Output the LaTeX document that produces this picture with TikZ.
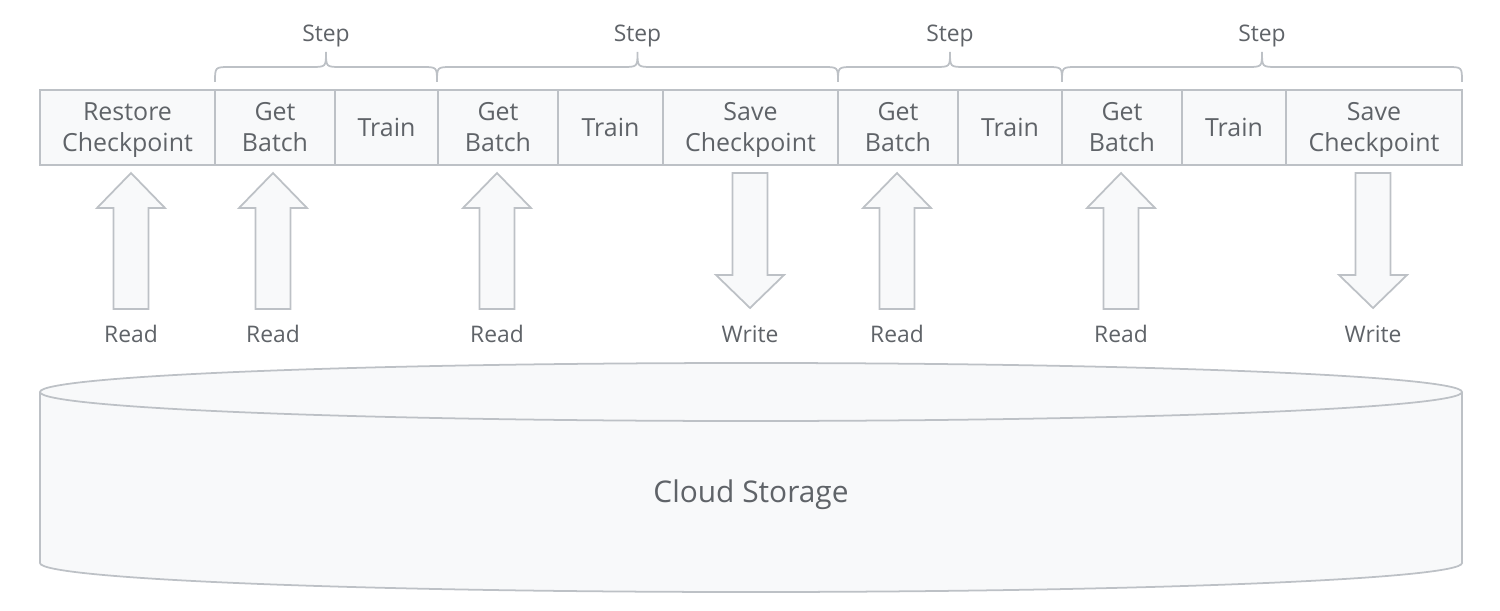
\documentclass[tikz,border=0pt]{standalone}
\usepackage{fontspec}
\setmainfont{Open Sans}
\definecolor{edge}{HTML}{BDC1C6}
\definecolor{boxfill}{HTML}{F8F9FA}
\definecolor{ink}{HTML}{5F6368}
\newcommand\tstr{\rule{0pt}{15pt}}
\newcommand\bstr{\rule[-5.1pt]{0pt}{0pt}}
\tikzset{
  box/.style={draw=edge, fill=boxfill, line width=1pt, inner sep=0pt, outer sep=0pt,
    minimum height=1.5cm, anchor=north west, align=center, text=ink,
    font=\fontsize{14.2}{17.6}\selectfont},
  lbl/.style={text=ink, font=\fontsize{13}{15}\selectfont, inner sep=0pt},
  blockarrow/.style={draw=edge, fill=boxfill, line width=1pt, line join=miter},
  bracestyle/.style={draw=edge, line width=1pt},
  pics/uparr/.style={code={
    \path[blockarrow] (0,0) -- (34,35) -- (17.5,35) -- (17.5,136) -- (-17.5,136) -- (-17.5,35) -- (-34,35) -- cycle;}},
  pics/downarr/.style={code={
    \path[blockarrow] (-17.5,0) -- (17.5,0) -- (17.5,102) -- (34,102) -- (0,135) -- (-34,102) -- (-17.5,102) -- cycle;}},
}
\begin{document}
\begin{tikzpicture}[x=0.02cm,y=-0.02cm]
\useasboundingbox (0,0) rectangle (1500,611);
% boxes
\foreach \xa/\w/\t/\n in {40/175/{\tstr Restore\\\bstr Checkpoint}/1, 215/120/{\tstr Get\\\bstr Batch}/2, 335/103/{Train}/3,
  438/120/{\tstr Get\\\bstr Batch}/4, 558/105/{Train}/5, 663/175/{\tstr Save\\\bstr Checkpoint}/6, 838/120/{\tstr Get\\\bstr Batch}/7,
  958/104/{Train}/8, 1062/120/{\tstr Get\\\bstr Batch}/9, 1182/104/{Train}/10, 1286/176/{\tstr Save\\\bstr Checkpoint}/11}
  \node[box, minimum width=\w*0.02cm] (b\n) at (\xa,90) {\t};
% braces and step labels
\foreach \xa/\xb/\n in {215/437/1, 437/838/2, 838/1062/3, 1062/1462/4}{
  \pgfmathsetmacro{\m}{(\xa+\xb)/2}
  \draw[bracestyle] (\xa,82) .. controls (\xa,67) .. (\xa+15,67) -- (\m-15,67)
    .. controls (\m,67) .. (\m,52) .. controls (\m,67) .. (\m+15,67) -- (\xb-15,67)
    .. controls (\xb,67) .. (\xb,82);
  \node[lbl] (s\n) at (\m,36) {Step};
}
% block arrows and labels
\foreach \cx/\n in {131/1, 273/2, 497/3, 897/5, 1121/6}{
  \pic at (\cx,173) {uparr};
  \node[lbl] (r\n) at (\cx,334) {Read};
}
\foreach \cx/\n in {750/4, 1373/7}{
  \pic at (\cx,173) {downarr};
  \node[lbl] (r\n) at (\cx,334) {Write};
}
% cylinder
\path[draw=edge, fill=boxfill, line width=1pt] (751,563) ellipse [x radius=711, y radius=29];
\fill[boxfill] (40,392) rectangle (1462,563);
\draw[edge, line width=1pt] (40,392) -- (40,563) (1462,392) -- (1462,563);
\path[draw=edge, fill=boxfill, line width=1pt] (751,392) ellipse [x radius=711, y radius=29];
\node[text=ink, font=\fontsize{17}{20}\selectfont] (cs) at (751,495) {Cloud Storage};
\end{tikzpicture}
\end{document}
